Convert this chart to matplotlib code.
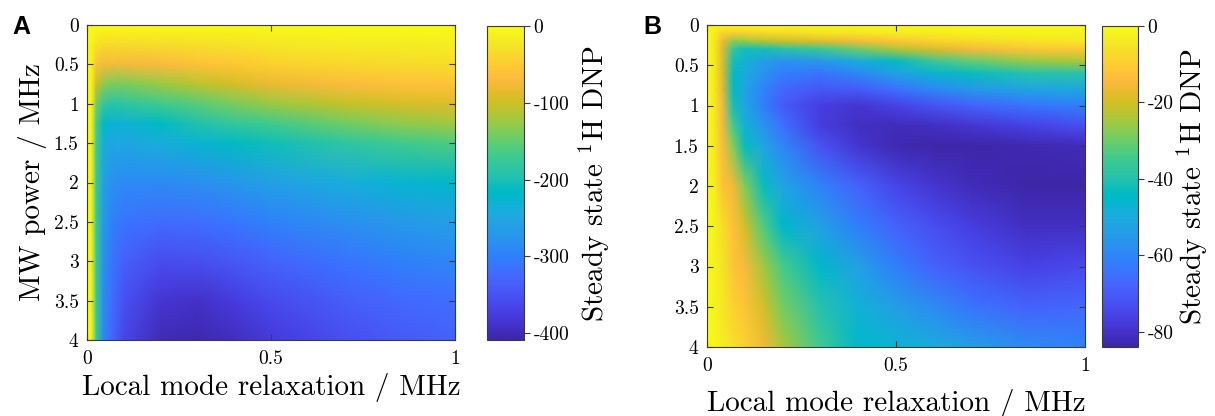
import matplotlib
matplotlib.use("Agg")
import matplotlib.pyplot as plt
from matplotlib.colors import LinearSegmentedColormap

plt.rcParams["font.family"] = ["cmr10", "DejaVu Serif"]
plt.rcParams["mathtext.fontset"] = "cm"
plt.rcParams["axes.unicode_minus"] = False

# MATLAB parula colour table (64 entries)
PARULA = [
    [0.2422, 0.1504, 0.6603], [0.2504, 0.1650, 0.7076], [0.2578, 0.1818, 0.7511],
    [0.2647, 0.1978, 0.7952], [0.2706, 0.2147, 0.8364], [0.2751, 0.2342, 0.8710],
    [0.2783, 0.2559, 0.8991], [0.2803, 0.2782, 0.9221], [0.2813, 0.3006, 0.9414],
    [0.2810, 0.3228, 0.9579], [0.2795, 0.3447, 0.9717], [0.2760, 0.3667, 0.9829],
    [0.2699, 0.3892, 0.9906], [0.2602, 0.4123, 0.9952], [0.2440, 0.4358, 0.9988],
    [0.2206, 0.4603, 0.9973], [0.1963, 0.4847, 0.9892], [0.1834, 0.5074, 0.9798],
    [0.1786, 0.5289, 0.9682], [0.1764, 0.5499, 0.9520], [0.1687, 0.5703, 0.9359],
    [0.1540, 0.5902, 0.9218], [0.1460, 0.6091, 0.9079], [0.1380, 0.6276, 0.8973],
    [0.1248, 0.6459, 0.8883], [0.1113, 0.6635, 0.8763], [0.0952, 0.6798, 0.8598],
    [0.0689, 0.6948, 0.8394], [0.0297, 0.7082, 0.8163], [0.0036, 0.7203, 0.7917],
    [0.0067, 0.7312, 0.7660], [0.0433, 0.7411, 0.7394], [0.0964, 0.7500, 0.7120],
    [0.1408, 0.7584, 0.6842], [0.1717, 0.7670, 0.6554], [0.1938, 0.7758, 0.6251],
    [0.2161, 0.7843, 0.5923], [0.2470, 0.7918, 0.5567], [0.2906, 0.7973, 0.5188],
    [0.3406, 0.8008, 0.4789], [0.3909, 0.8029, 0.4354], [0.4456, 0.8024, 0.3909],
    [0.5044, 0.7993, 0.3480], [0.5616, 0.7942, 0.3045], [0.6174, 0.7876, 0.2612],
    [0.6720, 0.7793, 0.2227], [0.7242, 0.7698, 0.1910], [0.7738, 0.7598, 0.1646],
    [0.8203, 0.7498, 0.1535], [0.8634, 0.7406, 0.1596], [0.9035, 0.7330, 0.1774],
    [0.9393, 0.7288, 0.2100], [0.9728, 0.7298, 0.2394], [0.9956, 0.7434, 0.2371],
    [0.9970, 0.7659, 0.2199], [0.9952, 0.7893, 0.2028], [0.9892, 0.8136, 0.1885],
    [0.9786, 0.8386, 0.1766], [0.9676, 0.8639, 0.1643], [0.9610, 0.8890, 0.1537],
    [0.9597, 0.9135, 0.1423], [0.9628, 0.9373, 0.1265], [0.9691, 0.9606, 0.1064],
    [0.9769, 0.9839, 0.0805],
]
parula = LinearSegmentedColormap.from_list("parula", PARULA, N=256)

# ---- Panel A: steady-state 1H DNP vs local mode relaxation and MW power ----
relax_A = [0, 0.012, 0.025, 0.045, 0.07, 0.1, 0.2, 0.3, 0.4, 0.5, 0.7, 0.85, 1.0]
power_A = [0, 0.25, 0.5, 0.75, 1.0, 1.25, 1.5, 2.0, 2.5, 3.0, 3.5, 4.0]
dnp_A = [
    [0, 0, -2, -3, -3, -3, -3, -2, -2, -2, -1, -1, -1],
    [0, -10, -25, -35, -35, -35, -33, -30, -26, -22, -18, -16, -15],
    [0, -10, -60, -75, -75, -75, -70, -62, -55, -45, -38, -35, -33],
    [0, -10, -100, -130, -140, -140, -125, -110, -95, -80, -68, -62, -60],
    [0, -10, -140, -180, -190, -185, -170, -155, -140, -125, -105, -95, -90],
    [0, -10, -160, -220, -230, -232, -215, -195, -180, -168, -145, -130, -122],
    [0, -10, -165, -240, -250, -250, -240, -230, -215, -205, -185, -170, -160],
    [0, -10, -170, -260, -280, -288, -288, -282, -272, -260, -240, -228, -222],
    [0, -10, -170, -270, -300, -312, -322, -318, -310, -298, -282, -270, -262],
    [0, -10, -170, -280, -312, -335, -357, -355, -345, -332, -312, -300, -292],
    [0, -10, -170, -285, -322, -352, -385, -390, -377, -360, -338, -325, -318],
    [0, -10, -170, -290, -332, -365, -400, -405, -395, -380, -355, -342, -332],
]
cbar_ticks_A = [0, -100, -200, -300, -400]
clim_A = (-409, 0)

# ---- Panel B ----
relax_B = [0, 0.02, 0.04, 0.07, 0.1, 0.15, 0.2, 0.3, 0.4, 0.5, 0.6, 0.7, 0.85, 1.0]
power_B = [0, 0.1, 0.2, 0.3, 0.45, 0.6, 0.8, 1.0, 1.25, 1.5, 2.0, 2.5, 3.0, 3.5, 4.0]
dnp_B = [
    [0, -1, -1, -1, -1, -1, -1, -1, -1, -1, -1, -1, -1, -1],
    [0, -3, -9, -10, -9, -8, -7, -5, -4, -3, -3, -2, -2, -2],
    [0, -4, -16, -27, -26, -23, -21, -18, -15, -12, -9, -7, -5, -4],
    [0, -4, -18, -38, -42, -42, -40, -36, -30, -24, -19, -15, -12, -11],
    [0, -4, -18, -42, -48, -54, -57, -56, -50, -44, -36, -31, -26, -24],
    [0, -4, -18, -44, -50, -57, -62, -64, -60, -53, -47, -43, -40, -39],
    [0, -4, -17, -44, -52, -61, -67, -71, -70, -65, -60, -56, -52, -51],
    [0, -4, -15, -42, -52, -62, -70, -77, -79, -76, -72, -68, -64, -62],
    [0, -4, -15, -35, -48, -57, -65, -77, -81, -82, -81, -79, -76, -73],
    [0, -4, -14, -28, -43, -52, -60, -72, -79, -83, -84, -84, -83, -82],
    [0, -3, -12, -16, -28, -43, -52, -61, -68, -75, -79, -82, -84, -84],
    [0, -2, -6, -13, -20, -33, -45, -53, -62, -68, -73, -77, -81, -81],
    [0, -2, -5, -12, -15, -25, -34, -45, -53, -62, -68, -72, -76, -74],
    [0, -2, -4, -9, -12, -20, -29, -40, -48, -54, -59, -64, -68, -67],
    [0, -1, -3, -6, -9, -16, -24, -35, -45, -47, -50, -54, -59, -61],
]
cbar_ticks_B = [0, -20, -40, -60, -80]
clim_B = (-84, 0)

power_ticks = [0, 0.5, 1, 1.5, 2, 2.5, 3, 3.5, 4]
relax_ticks = [0, 0.5, 1]

W, H = 1215, 416
fig = plt.figure(figsize=(W / 100, H / 100), dpi=100)


def box(x0, y0, x1, y1):
    """Figure-fraction rectangle from pixel corners (top-left origin)."""
    return [x0 / W, 1 - y1 / H, (x1 - x0) / W, (y1 - y0) / H]


FRAME = "#3a3a3a"
TICK_FS = 14
LABEL_FS = 21


def panel(ax_box, cax_box, x, y, z, clim, cticks, letter, letter_xy,
          ylabel, xpad, cpad):
    ax = fig.add_axes(box(*ax_box))
    mesh = ax.pcolormesh(x, y, z, shading="gouraud", cmap=parula,
                         vmin=clim[0], vmax=clim[1], rasterized=True)
    ax.set_xlim(0, 1)
    ax.set_ylim(4, 0)
    ax.set_xticks(relax_ticks)
    ax.set_xticklabels([f"{v:g}" for v in relax_ticks])
    ax.set_yticks(power_ticks)
    ax.set_yticklabels([f"{v:g}" for v in power_ticks])
    ax.tick_params(direction="in", top=True, right=True, length=4.5,
                   width=0.8, color=FRAME, labelsize=TICK_FS)
    ax.tick_params(axis="y", pad=6)
    ax.tick_params(axis="x", pad=7)
    for s in ax.spines.values():
        s.set_color(FRAME)
        s.set_linewidth(0.8)
    ax.set_xlabel("Local mode relaxation / MHz", fontsize=LABEL_FS, labelpad=xpad)
    if ylabel:
        ax.set_ylabel("MW power / MHz", fontsize=LABEL_FS, labelpad=5)

    cax = fig.add_axes(box(*cax_box))
    cb = fig.colorbar(mesh, cax=cax)
    cb.set_ticks(cticks)
    cb.set_ticklabels([f"{v:g}" for v in cticks])
    cb.outline.set_edgecolor(FRAME)
    cb.outline.set_linewidth(0.8)
    cax.tick_params(direction="out", length=4, width=0.8, color=FRAME,
                    labelsize=TICK_FS, pad=3)
    cb.set_label("Steady state $^1$H DNP", fontsize=LABEL_FS, labelpad=cpad)

    fig.text(letter_xy[0] / W, 1 - letter_xy[1] / H, letter,
             family="Liberation Sans", fontweight="bold", fontsize=18,
             ha="left", va="top")
    return ax


axA = panel((87, 25, 455, 340), (487, 26, 524, 340), relax_A, power_A, dnp_A,
            clim_A, cbar_ticks_A, "A", (12, 15), True, 4, 5)
axB = panel((707, 25, 1085, 347), (1102, 26, 1138, 347), relax_B, power_B, dnp_B,
            clim_B, cbar_ticks_B, "B", (643, 15), False, 10, 1)

fig.savefig("out.png", dpi=100)
